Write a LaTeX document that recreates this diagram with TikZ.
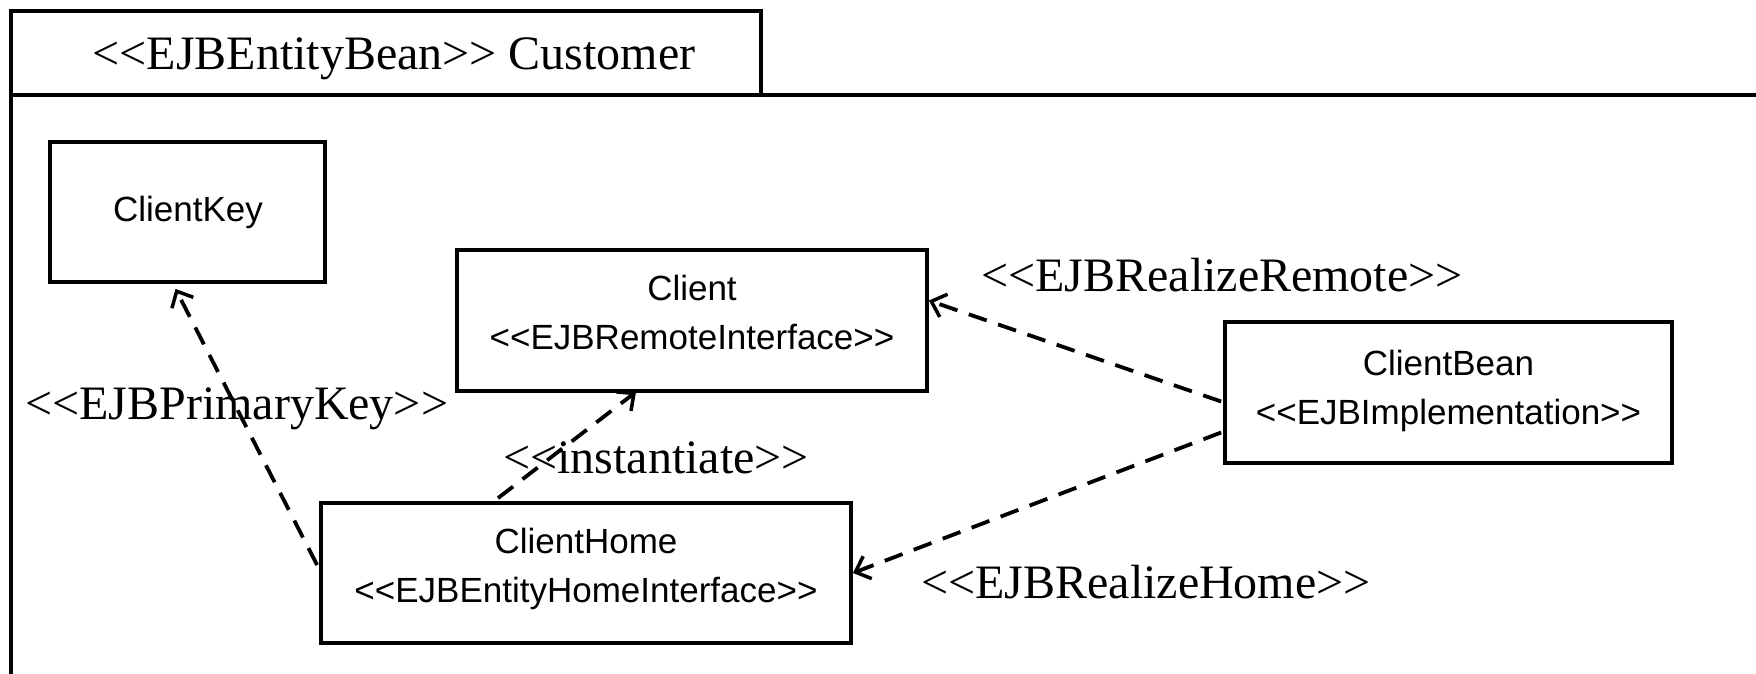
\documentclass[tikz,border=0pt]{standalone}
\usepackage{fontspec}
\newfontfamily\umlserif{Liberation Serif}
\newfontfamily\umlsans{Liberation Sans}
\usetikzlibrary{arrows.meta,calc}

\begin{document}
\begin{tikzpicture}[x=1pt,y=-1pt,
  frame/.style={line width=4pt},
  classbox/.style={draw,line width=3.8pt,rectangle,inner sep=0pt},
  boxtext/.style={font=\umlsans\fontsize{35}{49}\selectfont,align=center,anchor=base,inner sep=0pt},
  stereo/.style={font=\umlserif\fontsize{48}{58}\selectfont,anchor=base west,inner sep=0pt},
  dep/.style={line width=3.8pt,dash pattern=on 19pt off 12pt,
    -{Straight Barb[length=13pt,width=24pt,line width=3.5pt]}}
]
\useasboundingbox (0,0) rectangle (1756,674);

% package frame with its name tab
\draw[frame] (11,674) -- (11,11) -- (761,11) -- (761,95);
\draw[frame] (11,95) -- (1756,95);
\node[font=\umlserif\fontsize{48}{58}\selectfont,anchor=base,inner sep=0pt] (title) at (394,70)
  {<<EJBEntityBean>> Customer};

% classes
\node[classbox,minimum width=275pt,minimum height=140pt] (key)  at (187.5,212) {};
\node[classbox,minimum width=470pt,minimum height=141pt] (remote) at (692,320.5) {};
\node[classbox,minimum width=447pt,minimum height=141pt] (bean) at (1448.5,392.5) {};
\node[classbox,minimum width=530pt,minimum height=140pt] (home) at (586,573) {};

% class names and stereotypes (base = baseline of the last line)
\node[boxtext] (keyT) at (188,221) {ClientKey};
\node[boxtext] (remoteT) at (692,349) {Client\\<<EJBRemoteInterface>>};
\node[boxtext] (beanT) at (1448.5,424) {ClientBean\\<<EJBImplementation>>};
\node[boxtext] (homeT) at (586,602) {ClientHome\\<<EJBEntityHomeInterface>>};

% dependencies
\draw[dep] ($(home.west)+(-2,-8)$) -- ($(key.south)+(-12,5)$);
\draw[dep] ($(home.north)+(-88,-3)$) -- ($(remote.south)+(-56,-1)$);
\draw[dep] ($(bean.west)+(-2,9)$) -- ($(remote.east)+(0,-20)$);
\draw[dep] ($(bean.west)+(-2,40)$) -- (home.east);

% stereotype labels
\node[stereo] (lblRemote) at (981,291) {<<EJBRealizeRemote>>};
\node[stereo] (lblKey) at (25,419) {<<EJBPrimaryKey>>};
\node[stereo] (lblInst) at (503,473) {<<instantiate>>};
\node[stereo] (lblHome) at (921,598) {<<EJBRealizeHome>>};
\end{tikzpicture}
\end{document}
